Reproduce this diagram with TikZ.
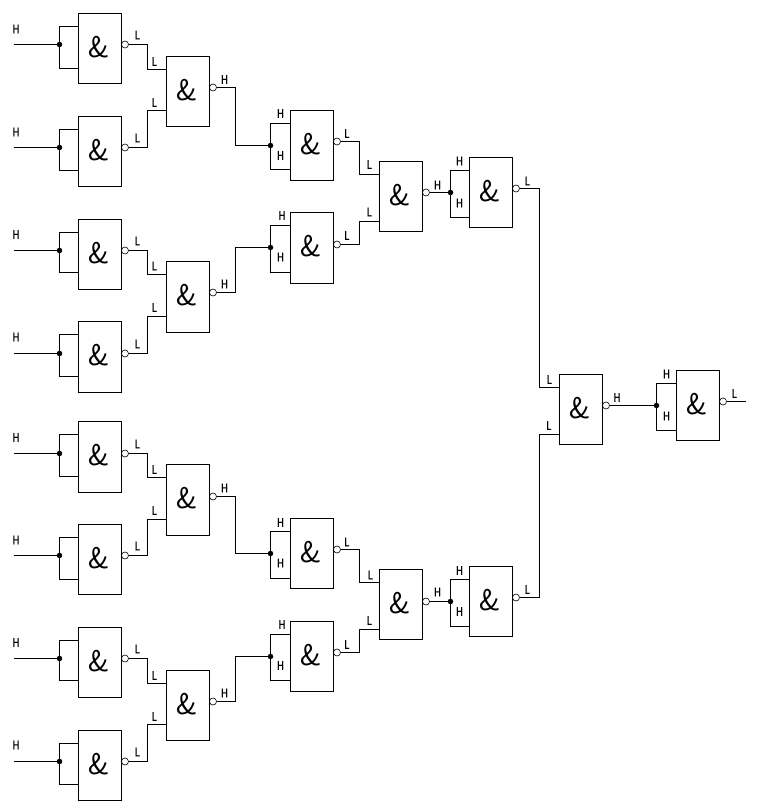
\documentclass[tikz,border=0pt]{standalone}
\usepackage{fontspec}
\newfontfamily\lblfont[FakeStretch=0.7,FakeBold=0.2]{Liberation Sans}
\newcommand{\ampfont}{\sffamily\addfontfeature{FakeStretch=0.72,FakeSlant=0.12}}
\newcount\labn
\tikzset{
  gatebox/.style={draw,line width=1pt,anchor=north west,inner sep=0pt,outer sep=0pt,minimum width=43pt},
  ampmark/.style={inner sep=0pt,font=\fontsize{30}{30}\ampfont},
  bubble/.style={draw,circle,line width=0.6pt,inner sep=0pt,outer sep=0pt,minimum size=7pt},
  junction/.style={fill=black,circle,inner sep=0pt,outer sep=0pt,minimum size=5.5pt},
  wire/.style={line width=1pt,line join=miter},
  sig/.style={inner sep=0pt,font=\fontsize{13}{13}\lblfont}
}
% name, x, top, bottom, input a, input b, output
\newcommand{\gate}[7]{%
  \node[gatebox,minimum height={(#4-#3)*1pt}] (#1) at (#2,#3) {};
  \node[ampmark] (#1-amp) at (#2+20,#3+34) {\&};
  \coordinate (#1-a) at (#2,#5);
  \coordinate (#1-b) at (#2,#6);
  \node[bubble] (#1-o) at (#2+46.5,#7) {};
}
% gate, junction x, junction y
\newcommand{\fan}[3]{%
  \node[junction] (#1-d) at (#2,#3) {};
  \draw[wire] (#1-a) -- (#1-a -| #1-d) -- (#1-b -| #1-d) -- (#1-b);
}
% from output, elbow x, to point
\newcommand{\elbow}[3]{%
  \coordinate (e-#1) at (#2,0);
  \draw[wire] (#1-o.east) -- (#1-o.east -| e-#1) -- (#3 -| e-#1) -- (#3);
}
\newcommand{\lab}[3]{\global\advance\labn by 1
  \node[sig] (lab\the\labn) at (#1,#2) {#3};}
% first column gate with free input
\newcommand{\firstcol}[7]{%
  \gate{#1}{78}{#2}{#3}{#4}{#5}{#6}
  \fan{#1}{59}{#6}
  \coordinate (#1-in) at (13,#6);
  \draw[wire] (#1-in) -- (#1-d);
  \lab{15.5}{#7}{H}
  \lab{137}{#6-9.5}{L}
}
\begin{document}
\begin{tikzpicture}[x=1pt,y=-1pt]
\useasboundingbox (-0.5,-0.5) rectangle (755.5,807.5);
\firstcol{G1}{13}{83}{26}{68}{44}{28.5}
\firstcol{G2}{116}{186}{129}{170}{147}{131.5}
\firstcol{G3}{219}{289}{232}{272}{250}{234}
\firstcol{G4}{321}{392}{334}{376}{353}{336.5}
\firstcol{G5}{421}{492}{434}{476}{453}{437}
\firstcol{G6}{524}{594}{537}{579}{555}{539.5}
\firstcol{G7}{627}{697}{640}{680}{658}{642}
\firstcol{G8}{730}{800}{743}{784}{761}{744.5}

\gate{H1}{166}{56}{126}{69}{110}{87}
\gate{H2}{166}{261}{332}{274}{316}{292}
\gate{H3}{166}{464}{535}{477}{519}{496}
\gate{H4}{166}{670}{740}{683}{724}{701}

\gate{I1}{290}{110}{180}{123}{169}{141}
\gate{I2}{290}{212}{283}{225}{272}{244}
\gate{I3}{290}{518}{588}{531}{578}{549}
\gate{I4}{290}{621}{691}{634}{680}{652}
\fan{I1}{270}{145}
\fan{I2}{270}{247}
\fan{I3}{270}{553}
\fan{I4}{270}{656}

\gate{J1}{379}{161}{231}{174}{221}{192}
\gate{J2}{379}{569}{639}{582}{629}{601}

\gate{K1}{469}{157}{227}{170}{217}{188}
\gate{K2}{469}{566}{636}{579}{626}{597}
\fan{K1}{450}{192}
\fan{K2}{450}{601}

\gate{M}{559}{374}{444}{387}{434}{405}
\gate{N}{676}{370}{440}{383}{430}{401}
\fan{N}{656}{405}

\elbow{G1}{147}{H1-a}
\elbow{G2}{147}{H1-b}
\elbow{G3}{147}{H2-a}
\elbow{G4}{147}{H2-b}
\elbow{G5}{147}{H3-a}
\elbow{G6}{147}{H3-b}
\elbow{G7}{147}{H4-a}
\elbow{G8}{147}{H4-b}
\elbow{H1}{235}{I1-d}
\elbow{H2}{235}{I2-d}
\elbow{H3}{235}{I3-d}
\elbow{H4}{235}{I4-d}
\elbow{I1}{359}{J1-a}
\elbow{I2}{359}{J1-b}
\elbow{I3}{359}{J2-a}
\elbow{I4}{359}{J2-b}
\draw[wire] (J1-o.east) -- (K1-d);
\draw[wire] (J2-o.east) -- (K2-d);
\elbow{K1}{539}{M-a}
\elbow{K2}{539}{M-b}
\draw[wire] (M-o.east) -- (N-d);
\coordinate (N-out) at (745,401);
\draw[wire] (N-o.east) -- (N-out);

% second column labels
\lab{154}{61}{L}\lab{154}{102}{L}\lab{224}{79}{H}
\lab{154}{265.5}{L}\lab{154}{307}{L}\lab{224}{283.5}{H}
\lab{154}{469}{L}\lab{154}{510}{L}\lab{224}{487.5}{H}
\lab{154}{675}{L}\lab{154}{716}{L}\lab{224}{692.5}{H}
% third column labels
\lab{280}{113}{H}\lab{280}{155}{H}\lab{346.5}{133}{L}
\lab{281.5}{215}{H}\lab{280}{256.5}{H}\lab{346.5}{235}{L}
\lab{280}{522}{H}\lab{280}{562.5}{H}\lab{346.5}{541.5}{L}
\lab{281.5}{624}{H}\lab{280}{665}{H}\lab{346.5}{644}{L}
% fourth column labels
\lab{369}{164}{L}\lab{369}{211.5}{L}\lab{437}{184.5}{H}
\lab{370}{574.5}{L}\lab{369}{620}{L}\lab{437}{591.5}{H}
% fifth column labels
\lab{459}{160.5}{H}\lab{459}{202.5}{H}\lab{527}{180.5}{L}
\lab{459}{570}{H}\lab{459}{611}{H}\lab{527}{589}{L}
% last gates
\lab{549}{379}{L}\lab{548.5}{425}{L}\lab{616.5}{397}{H}
\lab{666}{373.5}{H}\lab{666}{415.5}{H}\lab{734}{393}{L}
\end{tikzpicture}
\end{document}
